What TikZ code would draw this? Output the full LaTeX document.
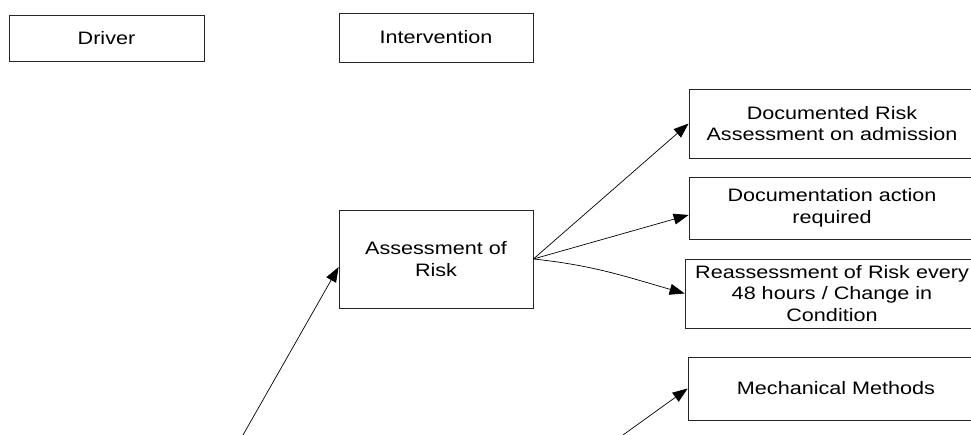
\documentclass[tikz,border=0pt]{standalone}
\usepackage{fontspec}
\setmainfont{Liberation Sans}[FakeStretch=1.2]
\usetikzlibrary{arrows.meta, positioning}

\begin{document}
\begin{tikzpicture}[
  x=1pt, y=1pt,
  box/.style={draw=black!85, line width=0.8pt, align=center, inner sep=2pt,
    font=\fontsize{18}{21.5}\selectfont},
  link/.style={draw=black, line width=0.7pt, -{Triangle[length=15pt, width=11pt]}}
]
  \clip (0,0) rectangle (971,435);

  % Headings
  \node[box, minimum width=195pt, minimum height=46pt] (driver) at (106.5, 397) {Driver};
  \node[box, minimum width=194pt, minimum height=49pt] (interv) at (436, 397.5) {Intervention};

  % Intervention
  \node[box, minimum width=194pt, minimum height=98pt] (risk) at (436, 176) {Assessment of\\Risk};

  % Outcomes
  \node[box, minimum width=286pt, minimum height=69pt] (docrisk) at (832, 311.5) {Documented Risk\\Assessment on admission};
  \node[box, minimum width=286pt, minimum height=62pt] (action) at (832, 227) {Documentation action\\required};
  \node[box, minimum width=294pt, minimum height=69pt] (reassess) at (832, 141.5) {Reassessment of Risk every\\48 hours / Change in\\Condition};
  \node[box, minimum width=296pt, minimum height=63pt] (mech) at (836, 46.5) {Mechanical Methods};

  % Off-page sources
  \coordinate (srcleft) at (243, 0);
  \coordinate (srcright) at (623, 0);

  % Links
  \draw[link] (risk.east) -- (docrisk.west);
  \draw[link] (risk.east) -- ([yshift=-7pt]action.west);
  \draw[link] (risk.east) to[out=-6, in=164] (reassess.west);
  \draw[link] (srcleft) -- ([yshift=-8pt]risk.west);
  \draw[link] (srcright) -- (mech.west);
\end{tikzpicture}
\end{document}
